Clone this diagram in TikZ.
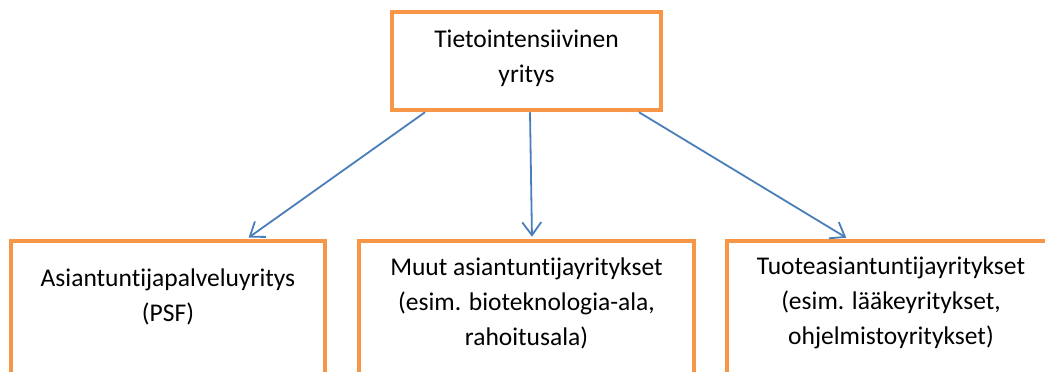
\documentclass[tikz,border=0pt]{standalone}
\usepackage{fontspec}
\setmainfont{Carlito}[Ligatures=NoCommon]
\usetikzlibrary{arrows.meta}
\definecolor{boxorange}{HTML}{F79646}
\definecolor{arrowblue}{HTML}{4A7EBB}
\tikzset{
    orangebox/.style={draw=boxorange, line width=4.5pt, fill=white},
    bluearrow/.style={draw=arrowblue, line width=1.8pt, -{Straight Barb[length=13pt,width=19pt]}, shorten >=2pt},
    boxtext/.style={align=center, font=\fontsize{25.5}{35}\selectfont, inner sep=0pt, anchor=base}
}
\begin{document}
\begin{tikzpicture}[x=1pt,y=-1pt]
                \useasboundingbox (0,0) rectangle (1045,372);
                \node[orangebox, minimum width=269pt, minimum height=98pt] (firm) at (526.5,61) {};
                \node[boxtext] (firmtext) at (526.5,82) {Tietointensiivinen\\yritys};
                \node[orangebox, minimum width=314pt, minimum height=179pt] (psf) at (168,330.5) {};
                \node[orangebox, minimum width=335pt, minimum height=179pt] (other) at (526.5,330.5) {};
                \node[orangebox, minimum width=328pt, minimum height=179pt] (product) at (891,330.5) {};
                \node[boxtext] (psftext) at (168,321) {Asiantuntijapalveluyritys\\(PSF)};
                \node[boxtext] (othertext) at (526.5,345) {Muut asiantuntijayritykset\\(esim. bioteknologia-ala,\\rahoitusala)};
                \node[boxtext] (producttext) at (891,344) {Tuoteasiantuntijayritykset\\(esim. lääkeyritykset,\\ohjelmistoyritykset)};
                \draw[bluearrow] ([xshift=-101.5pt]firm.south) -- ([xshift=79pt]psf.north);
                \draw[bluearrow] ([xshift=3.5pt]firm.south) -- ([xshift=5.5pt]other.north);
                \draw[bluearrow] ([xshift=112.5pt]firm.south) -- ([xshift=-43pt]product.north);
\end{tikzpicture}
\end{document}
